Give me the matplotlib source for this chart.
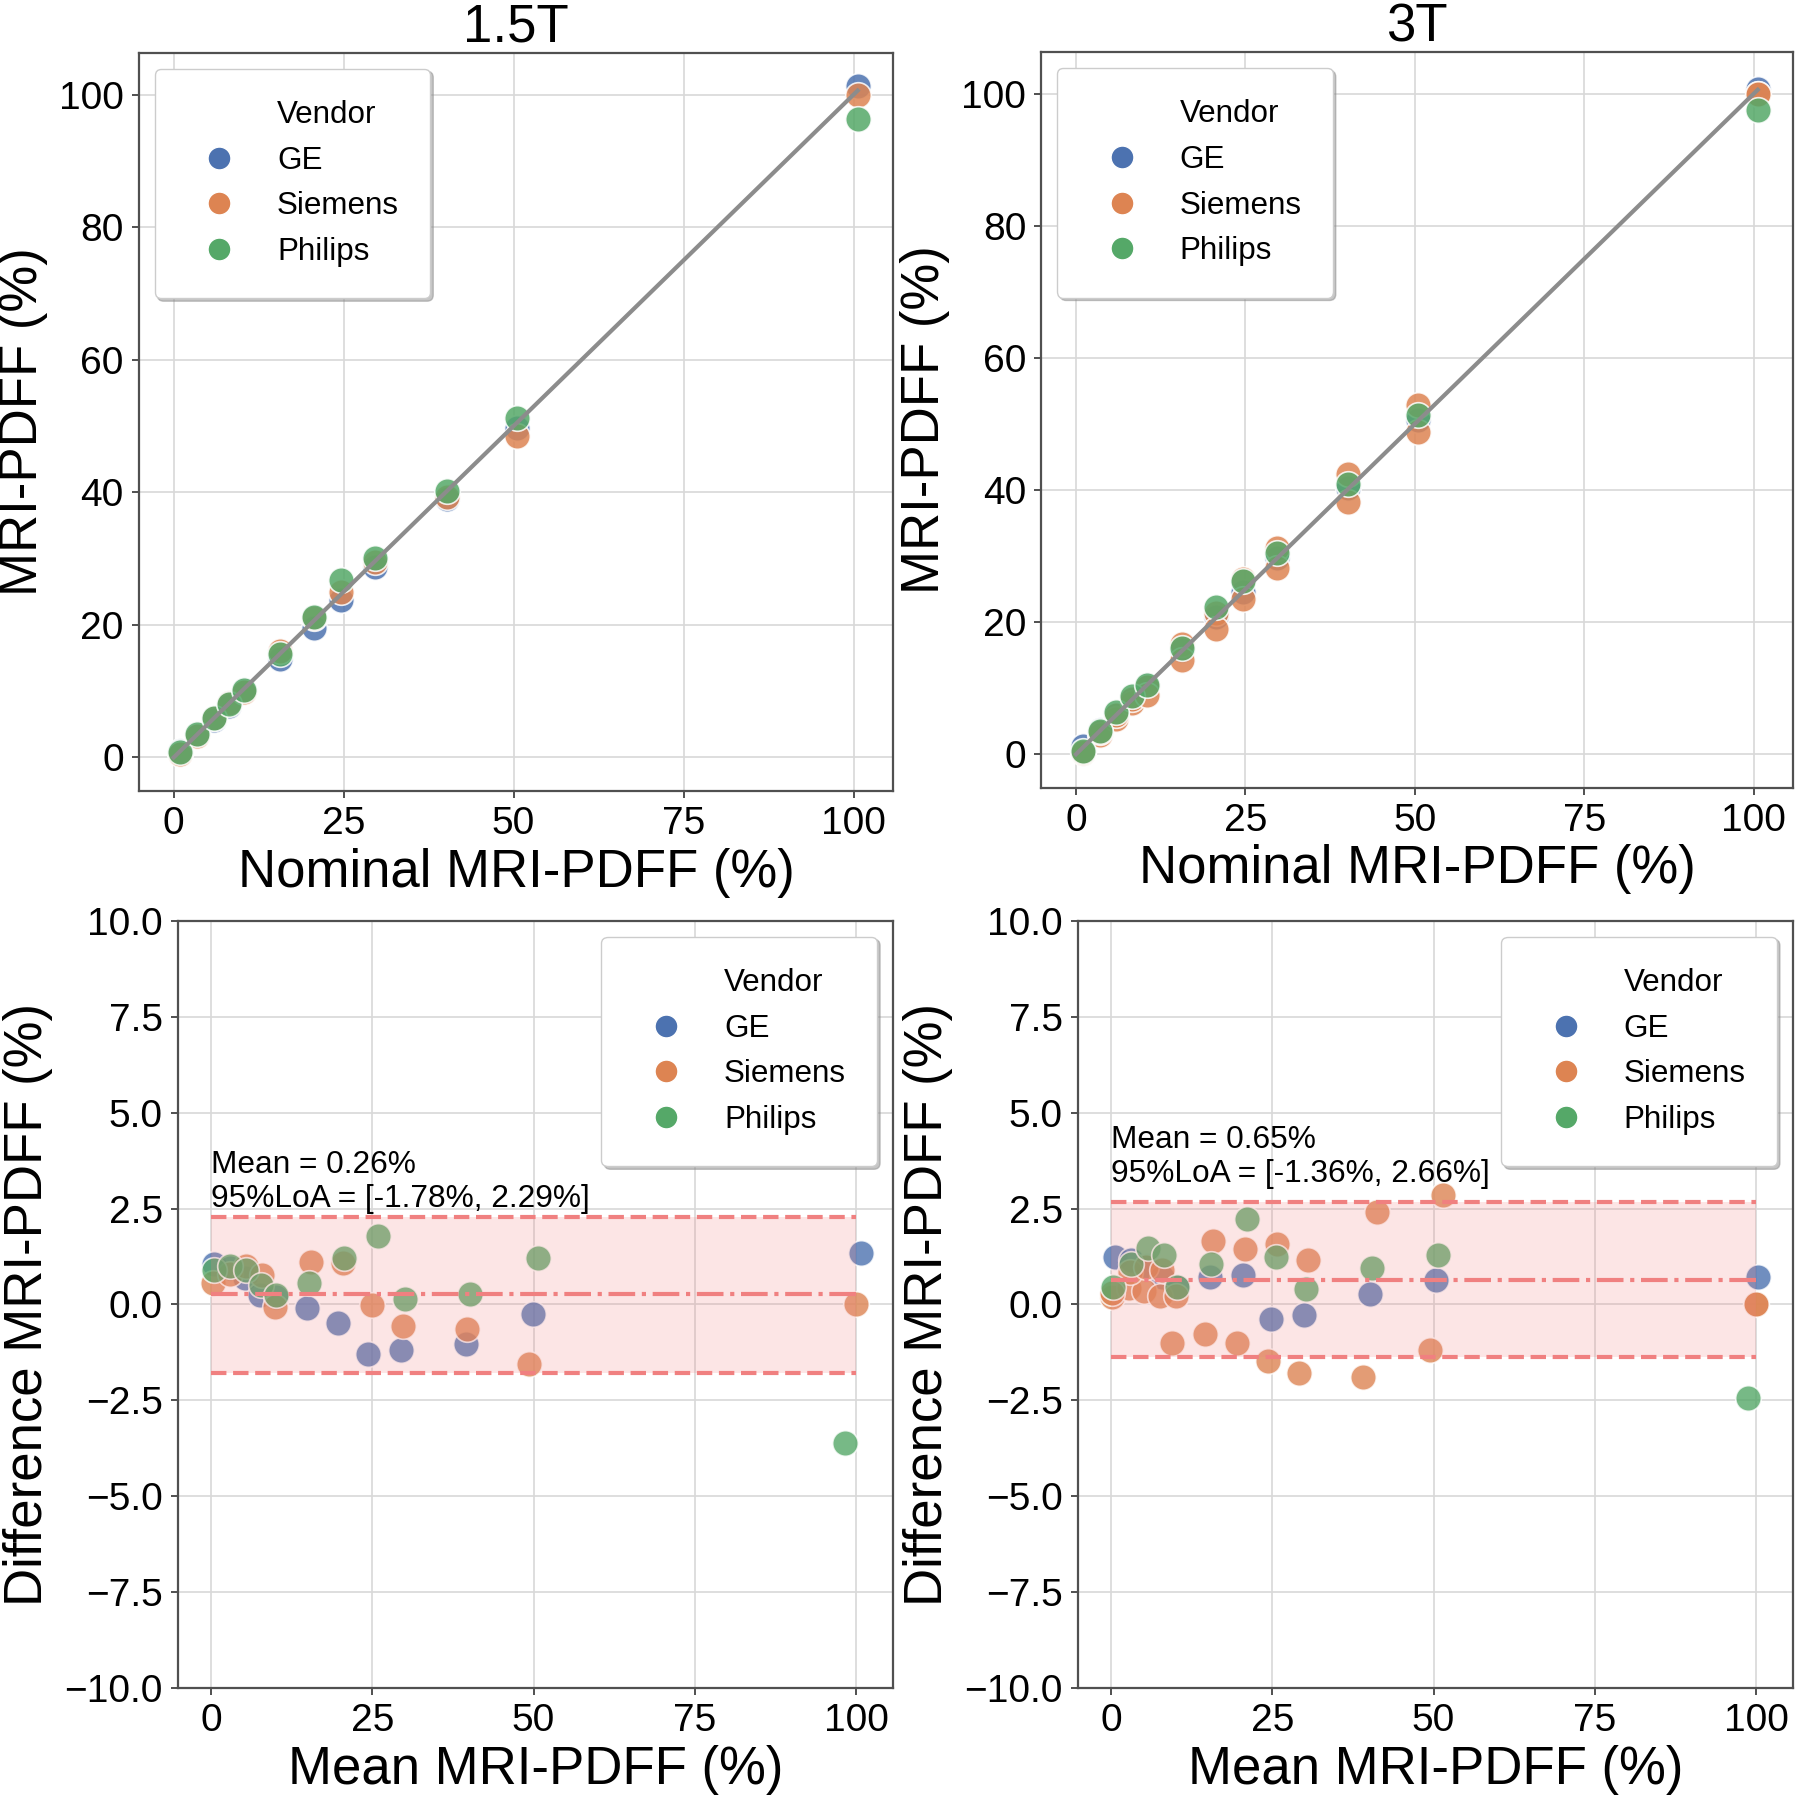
import matplotlib.pyplot as plt
from matplotlib.lines import Line2D

plt.rcParams['font.family'] = ['Liberation Sans', 'DejaVu Sans']

vendors = ['GE', 'Siemens', 'Philips']
colors = ['#4C72B0', '#DD8452', '#55A868']

# nominal PDFF of the phantom vials (used for Bland-Altman)
nominal = [0, 2.5, 5, 7.5, 10, 15, 20, 25, 30, 40, 50, 100]
# x position of the vials in the correlation plots
reference = [1.0, 3.5, 5.9, 8.2, 10.4, 15.6, 20.6, 24.6, 29.6, 40.2, 50.5, 100.6]

# measured - nominal (%), per vendor
diff_15_ge = [1.05, 0.95, 0.68, 0.24, 0.20, -0.09, -0.48, -1.28, -1.19, -1.04, -0.25, 1.35]
diff_15_siemens = [0.55, 0.80, 1.00, 0.77, -0.06, 1.11, 1.08, -0.02, -0.57, -0.63, -1.56, 0.00]
diff_15_philips = [0.90, 1.00, 0.90, 0.50, 0.24, 0.55, 1.20, 1.78, 0.14, 0.27, 1.22, -3.61]

diff_3_ge = [1.24, 1.16, 1.00, 0.72, 0.45, 0.72, 0.77, -0.38, -0.28, 0.27, 0.65, 0.72]
diff_3_siemens_a = [0.20, 0.42, 0.35, 0.22, 0.22, 1.66, 1.44, 1.57, 1.16, 2.42, 2.85, 0.00]
diff_3_siemens_b = [0.30, 0.85, 0.98, 0.90, -1.00, -0.78, -1.00, -1.47, -1.78, -1.89, -1.19, 0.00]
diff_3_philips = [0.46, 1.05, 1.46, 1.30, 0.46, 1.05, 2.24, 1.23, 0.39, 0.96, 1.30, -2.43]

# Bland-Altman summary: mean bias, lower LoA, upper LoA
stats_15 = [0.26, -1.78, 2.29]
stats_3 = [0.65, -1.36, 2.66]

panels = [
    ('1.5T', [[diff_15_ge], [diff_15_siemens], [diff_15_philips]], stats_15, 2.35),
    ('3T', [[diff_3_ge], [diff_3_siemens_a, diff_3_siemens_b], [diff_3_philips]], stats_3, 3.0),
]

fig = plt.figure(figsize=(18, 17.98), dpi=100)
top_pos = [[0.0772, 0.5601, 0.4189, 0.4105], [0.5786, 0.5620, 0.4175, 0.4090]]
bot_pos = [[0.0989, 0.0612, 0.3972, 0.4266], [0.5990, 0.0612, 0.3970, 0.4266]]

spine_c = '#505050'


def style_axes(ax):
    ax.set_axisbelow(True)
    ax.grid(True, color='#d8d8d8', linewidth=1.2)
    for sp in ax.spines.values():
        sp.set_color(spine_c)
        sp.set_linewidth(1.6)
    ax.tick_params(labelsize=28, length=5, width=1.4, color=spine_c, pad=6)


def vendor_legend(ax, loc):
    handles = [Line2D([], [], linestyle='none', marker='')]
    for c in colors:
        handles.append(Line2D([], [], linestyle='none', marker='o', markersize=16.5,
                              markerfacecolor=c, markeredgecolor='white', markeredgewidth=1))
    leg = ax.legend(handles, ['Vendor'] + vendors, loc=loc, fontsize=22.6,
                    handlelength=2.1, handletextpad=0.8, borderpad=1.0, labelspacing=0.5,
                    frameon=True, fancybox=True, framealpha=1, edgecolor='#cccccc',
                    shadow={'ox': 2, 'oy': -2, 'color': '0.55', 'alpha': 0.5})
    leg.set_zorder(10)


for i, (title, groups, stats, text_y) in enumerate(panels):
    # correlation plot
    ax = fig.add_axes(top_pos[i])
    style_axes(ax)
    for c, series in zip(colors, groups):
        for d in series:
            measured = [n + v for n, v in zip(nominal, d)]
            ax.scatter(reference, measured, s=340, color=c, edgecolor='white',
                       linewidth=1.2, alpha=0.85, zorder=3)
    ax.plot([0, reference[-1]], [0, reference[-1]], color='#8c8c8c', linewidth=3, zorder=4)
    ax.set_xlim(-5.1, 105.8)
    ax.set_ylim(-5.05, 106.3)
    ax.set_xticks([0, 25, 50, 75, 100])
    ax.set_yticks([0, 20, 40, 60, 80, 100])
    ax.set_xlabel('Nominal MRI-PDFF (%)', fontsize=38, labelpad=4)
    ax.set_ylabel('MRI-PDFF (%)', fontsize=38, labelpad=8)
    ax.set_title(title, fontsize=38, pad=8)
    vendor_legend(ax, 'upper left')

    # Bland-Altman plot
    ax = fig.add_axes(bot_pos[i])
    style_axes(ax)
    for c, series in zip(colors, groups):
        for d in series:
            mean_vals = [n + v / 2 for n, v in zip(nominal, d)]
            ax.scatter(mean_vals, d, s=340, color=c, edgecolor='white',
                       linewidth=1.2, alpha=0.8, zorder=3)
    bias, lo, hi = stats
    ax.fill_between([nominal[0], nominal[-1]], lo, hi, color='lightcoral', alpha=0.2,
                    linewidth=0, zorder=4)
    ax.hlines([lo, hi], nominal[0], nominal[-1], colors='lightcoral', linestyles='--',
              linewidth=3, zorder=5)
    ax.hlines(bias, nominal[0], nominal[-1], colors='lightcoral', linestyles='-.',
              linewidth=3, zorder=5)
    ax.text(0, text_y, 'Mean = %.2f%%\n95%%LoA = [%.2f%%, %.2f%%]' % (bias, lo, hi),
            fontsize=22.8, ha='left', va='bottom', zorder=6)
    ax.set_xlim(-5.1, 105.7)
    ax.set_ylim(-10, 10)
    ax.set_xticks([0, 25, 50, 75, 100])
    ax.set_yticks([-10, -7.5, -5, -2.5, 0, 2.5, 5, 7.5, 10])
    ax.set_yticklabels(['%.1f' % t if t >= 0 else '\u2212%.1f' % -t
                        for t in [-10, -7.5, -5, -2.5, 0, 2.5, 5, 7.5, 10]])
    ax.set_xlabel('Mean MRI-PDFF (%)', fontsize=38, labelpad=4)
    ax.set_ylabel('Difference MRI-PDFF (%)', fontsize=38, labelpad=8)
    vendor_legend(ax, 'upper right')

fig.savefig('out.png', dpi=100, facecolor='white')
